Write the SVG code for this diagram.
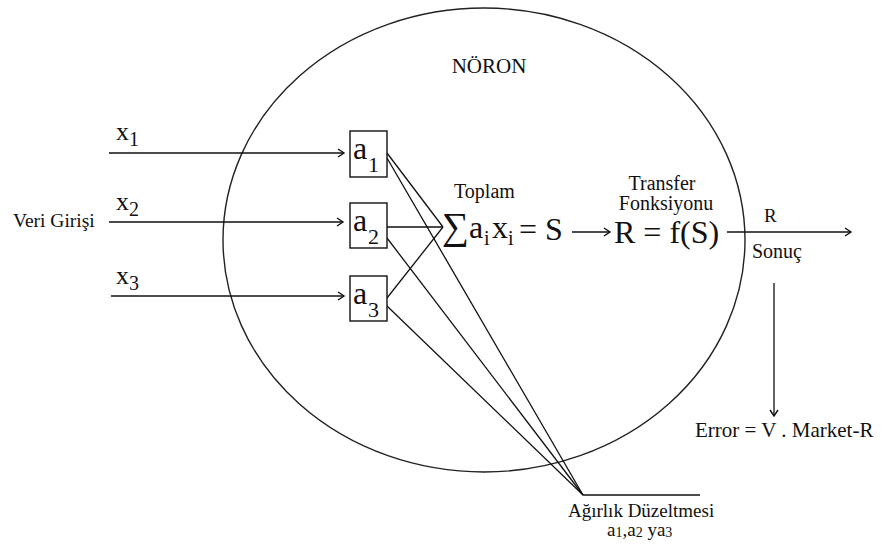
<svg xmlns="http://www.w3.org/2000/svg" width="882" height="549" viewBox="0 0 882 549">
<defs>
<marker id="arr" markerWidth="10" markerHeight="10" refX="8" refY="5" orient="auto" markerUnits="userSpaceOnUse">
<path d="M2,1 L8,5 L2,9" fill="none" stroke="#111" stroke-width="1.4"/>
</marker>
<style>
text{font-family:'Liberation Serif','DejaVu Serif',serif;fill:#111}
.ln{stroke:#111;stroke-width:1.3;fill:none}
.box{fill:#fff;stroke:#111;stroke-width:1.4}
</style>
</defs>
<rect width="882" height="549" fill="#fff"/>
<g id="neuron">
<ellipse cx="484" cy="240" rx="261" ry="232" fill="none" stroke="#222" stroke-width="1.4"/>
<text x="489" y="73" font-size="21" text-anchor="middle">NÖRON</text>
</g>
<g id="connectors">
<line class="ln" x1="109" y1="153" x2="344" y2="153" marker-end="url(#arr)"/>
<line class="ln" x1="109" y1="222" x2="343" y2="222" marker-end="url(#arr)"/>
<line class="ln" x1="111" y1="296" x2="344" y2="296" marker-end="url(#arr)"/>
<line class="ln" x1="387" y1="153" x2="443" y2="227"/>
<line class="ln" x1="387" y1="227" x2="443" y2="227"/>
<line class="ln" x1="387" y1="298" x2="443" y2="227"/>
<line class="ln" x1="387" y1="158" x2="583" y2="495"/>
<line class="ln" x1="387" y1="238" x2="583" y2="495"/>
<line class="ln" x1="387" y1="306" x2="583" y2="495"/>
<line class="ln" x1="583" y1="495" x2="700" y2="495"/>
<line class="ln" x1="572" y1="232" x2="610" y2="232" marker-end="url(#arr)"/>
<line class="ln" x1="727" y1="232" x2="851" y2="232" marker-end="url(#arr)"/>
<line class="ln" x1="774" y1="283" x2="774" y2="416" marker-end="url(#arr)"/>
</g>
<g id="inputs">
<text x="13" y="227" font-size="19.5">Veri Girişi</text>
<text x="116" y="140" font-size="26">x<tspan font-size="20" dy="6">1</tspan></text>
<text x="116" y="210" font-size="26">x<tspan font-size="20" dy="6">2</tspan></text>
<text x="116" y="284" font-size="26">x<tspan font-size="20" dy="6">3</tspan></text>
</g>
<g id="box-a1">
<rect class="box" x="350" y="131" width="37" height="46"/>
<text x="353" y="159" font-size="32">a</text>
<text x="368" y="172" font-size="22">1</text>
</g>
<g id="box-a2">
<rect class="box" x="350" y="203" width="37" height="45"/>
<text x="353" y="231" font-size="32">a</text>
<text x="368" y="244" font-size="22">2</text>
</g>
<g id="box-a3">
<rect class="box" x="350" y="276" width="37" height="45"/>
<text x="353" y="304" font-size="32">a</text>
<text x="368" y="317" font-size="22">3</text>
</g>
<g id="sum">
<text x="454" y="198" font-size="20">Toplam</text>
<text x="442" y="239" font-size="38">∑</text>
<text x="469" y="238" font-size="32">a</text>
<text x="484" y="245" font-size="20">i</text>
<text x="492" y="238" font-size="32">x</text>
<text x="508" y="245" font-size="20">i</text>
<text x="519" y="240" font-size="32">= S</text>
</g>
<g id="transfer">
<text x="662" y="190" font-size="20" text-anchor="middle">Transfer</text>
<text x="666" y="210" font-size="20" text-anchor="middle">Fonksiyonu</text>
<text x="614" y="243" font-size="32">R = f(S)</text>
</g>
<g id="output">
<text x="764" y="222" font-size="19">R</text>
<text x="752" y="258" font-size="20">Sonuç</text>
</g>
<g id="error">
<text x="695" y="437" font-size="21">Error = V . Market-R</text>
</g>
<g id="weights">
<text x="568" y="517" font-size="19">Ağırlık Düzeltmesi</text>
<text x="607" y="536" font-size="19">a<tspan font-size="14" dy="1">1</tspan><tspan dy="-1">,a</tspan><tspan font-size="14" dy="1">2</tspan><tspan dy="-1"> ya</tspan><tspan font-size="14" dy="1">3</tspan></text>
</g>
</svg>
